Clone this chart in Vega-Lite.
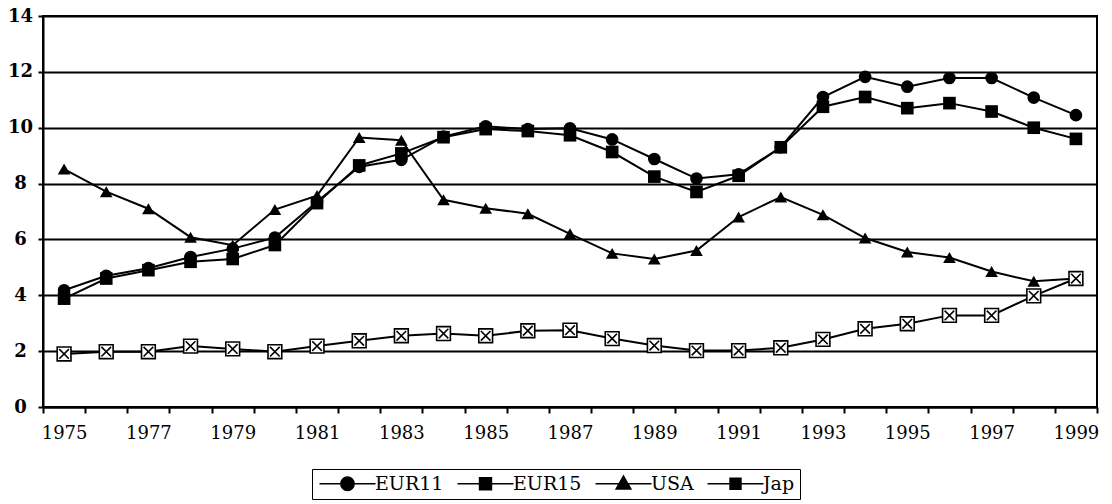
{
  "$schema": "https://vega.github.io/schema/vega-lite/v6.json",
  "width": 1054,
  "height": 391,
  "autosize": {"type": "none"},
  "padding": {"left": 43, "top": 16, "right": 15, "bottom": 97},
  "background": "white",
  "config": {
    "view": {"stroke": "black", "strokeWidth": 2},
    "font": "DejaVu Serif",
    "style": {"guide-label": {"font": "DejaVu Serif", "fill": "black"}},
    "legend": {"labelFont": "DejaVu Serif", "labelFontSize": 19, "labelColor": "black"}
  },
  "datasets": {
    "rates": [
      {"year": 1975, "series": "EUR11", "value": 4.18}, {"year": 1975, "series": "EUR15", "value": 3.88}, {"year": 1975, "series": "USA", "value": 8.52}, {"year": 1975, "series": "Jap", "value": 1.9},
      {"year": 1976, "series": "EUR11", "value": 4.7}, {"year": 1976, "series": "EUR15", "value": 4.6}, {"year": 1976, "series": "USA", "value": 7.71}, {"year": 1976, "series": "Jap", "value": 1.98},
      {"year": 1977, "series": "EUR11", "value": 4.97}, {"year": 1977, "series": "EUR15", "value": 4.9}, {"year": 1977, "series": "USA", "value": 7.1}, {"year": 1977, "series": "Jap", "value": 1.98},
      {"year": 1978, "series": "EUR11", "value": 5.37}, {"year": 1978, "series": "EUR15", "value": 5.2}, {"year": 1978, "series": "USA", "value": 6.08}, {"year": 1978, "series": "Jap", "value": 2.18},
      {"year": 1979, "series": "EUR11", "value": 5.67}, {"year": 1979, "series": "EUR15", "value": 5.3}, {"year": 1979, "series": "USA", "value": 5.79}, {"year": 1979, "series": "Jap", "value": 2.08},
      {"year": 1980, "series": "EUR11", "value": 6.07}, {"year": 1980, "series": "EUR15", "value": 5.8}, {"year": 1980, "series": "USA", "value": 7.07}, {"year": 1980, "series": "Jap", "value": 1.98},
      {"year": 1981, "series": "EUR11", "value": 7.35}, {"year": 1981, "series": "EUR15", "value": 7.3}, {"year": 1981, "series": "USA", "value": 7.57}, {"year": 1981, "series": "Jap", "value": 2.18},
      {"year": 1982, "series": "EUR11", "value": 8.6}, {"year": 1982, "series": "EUR15", "value": 8.65}, {"year": 1982, "series": "USA", "value": 9.65}, {"year": 1982, "series": "Jap", "value": 2.37},
      {"year": 1983, "series": "EUR11", "value": 8.85}, {"year": 1983, "series": "EUR15", "value": 9.08}, {"year": 1983, "series": "USA", "value": 9.55}, {"year": 1983, "series": "Jap", "value": 2.55},
      {"year": 1984, "series": "EUR11", "value": 9.68}, {"year": 1984, "series": "EUR15", "value": 9.66}, {"year": 1984, "series": "USA", "value": 7.42}, {"year": 1984, "series": "Jap", "value": 2.63},
      {"year": 1985, "series": "EUR11", "value": 10.05}, {"year": 1985, "series": "EUR15", "value": 9.95}, {"year": 1985, "series": "USA", "value": 7.12}, {"year": 1985, "series": "Jap", "value": 2.55},
      {"year": 1986, "series": "EUR11", "value": 9.95}, {"year": 1986, "series": "EUR15", "value": 9.88}, {"year": 1986, "series": "USA", "value": 6.92}, {"year": 1986, "series": "Jap", "value": 2.73},
      {"year": 1987, "series": "EUR11", "value": 9.98}, {"year": 1987, "series": "EUR15", "value": 9.73}, {"year": 1987, "series": "USA", "value": 6.2}, {"year": 1987, "series": "Jap", "value": 2.75},
      {"year": 1988, "series": "EUR11", "value": 9.58}, {"year": 1988, "series": "EUR15", "value": 9.13}, {"year": 1988, "series": "USA", "value": 5.5}, {"year": 1988, "series": "Jap", "value": 2.45},
      {"year": 1989, "series": "EUR11", "value": 8.88}, {"year": 1989, "series": "EUR15", "value": 8.25}, {"year": 1989, "series": "USA", "value": 5.3}, {"year": 1989, "series": "Jap", "value": 2.2},
      {"year": 1990, "series": "EUR11", "value": 8.18}, {"year": 1990, "series": "EUR15", "value": 7.7}, {"year": 1990, "series": "USA", "value": 5.6}, {"year": 1990, "series": "Jap", "value": 2.02},
      {"year": 1991, "series": "EUR11", "value": 8.33}, {"year": 1991, "series": "EUR15", "value": 8.28}, {"year": 1991, "series": "USA", "value": 6.8}, {"year": 1991, "series": "Jap", "value": 2.02},
      {"year": 1992, "series": "EUR11", "value": 9.3}, {"year": 1992, "series": "EUR15", "value": 9.3}, {"year": 1992, "series": "USA", "value": 7.52}, {"year": 1992, "series": "Jap", "value": 2.12},
      {"year": 1993, "series": "EUR11", "value": 11.1}, {"year": 1993, "series": "EUR15", "value": 10.75}, {"year": 1993, "series": "USA", "value": 6.88}, {"year": 1993, "series": "Jap", "value": 2.42},
      {"year": 1994, "series": "EUR11", "value": 11.82}, {"year": 1994, "series": "EUR15", "value": 11.1}, {"year": 1994, "series": "USA", "value": 6.05}, {"year": 1994, "series": "Jap", "value": 2.8},
      {"year": 1995, "series": "EUR11", "value": 11.47}, {"year": 1995, "series": "EUR15", "value": 10.7}, {"year": 1995, "series": "USA", "value": 5.55}, {"year": 1995, "series": "Jap", "value": 2.98},
      {"year": 1996, "series": "EUR11", "value": 11.78}, {"year": 1996, "series": "EUR15", "value": 10.88}, {"year": 1996, "series": "USA", "value": 5.35}, {"year": 1996, "series": "Jap", "value": 3.28},
      {"year": 1997, "series": "EUR11", "value": 11.78}, {"year": 1997, "series": "EUR15", "value": 10.58}, {"year": 1997, "series": "USA", "value": 4.85}, {"year": 1997, "series": "Jap", "value": 3.28},
      {"year": 1998, "series": "EUR11", "value": 11.08}, {"year": 1998, "series": "EUR15", "value": 10.0}, {"year": 1998, "series": "USA", "value": 4.5}, {"year": 1998, "series": "Jap", "value": 3.98},
      {"year": 1999, "series": "EUR11", "value": 10.45}, {"year": 1999, "series": "EUR15", "value": 9.6}, {"year": 1999, "series": "USA", "value": 4.6}, {"year": 1999, "series": "Jap", "value": 4.6}
    ]
  },
  "data": {"name": "rates"},
  "encoding": {
    "x": {
      "field": "year",
      "type": "ordinal",
      "scale": {"type": "band", "paddingInner": 0, "paddingOuter": 0},
      "bandPosition": 0.5,
      "axis": {
        "title": null,
        "tickBand": "extent",
        "labelExpr": "datum.value % 2 == 1 ? datum.label : ''",
        "labelAngle": 0,
        "labelOverlap": false,
        "labelBound": false,
        "tickSize": 6,
        "tickWidth": 2,
        "tickColor": "black",
        "domainColor": "black",
        "domainWidth": 2,
        "grid": false,
        "labelFont": "DejaVu Serif",
        "labelFontSize": 18,
        "labelColor": "black",
        "labelPadding": 11
      }
    },
    "y": {
      "field": "value",
      "type": "quantitative",
      "scale": {"domain": [0, 14], "nice": false},
      "axis": {
        "title": null,
        "values": [0, 2, 4, 6, 8, 10, 12, 14],
        "grid": true,
        "gridColor": "black",
        "gridWidth": 2,
        "gridOpacity": 1,
        "tickSize": 5,
        "tickWidth": 2,
        "tickColor": "black",
        "domainColor": "black",
        "domainWidth": 2,
        "labelAlign": "center",
        "labelPadding": 18,
        "labelFont": "DejaVu Serif",
        "labelFontSize": 18,
        "labelFontWeight": "bold",
        "labelColor": "black"
      }
    }
  },
  "layer": [
    {
      "mark": {"type": "line", "color": "black", "strokeWidth": 2},
      "encoding": {"detail": {"field": "series"}}
    },
    {
      "transform": [{"filter": "datum.series != 'Jap'"}],
      "mark": {"type": "point", "filled": true, "color": "black", "size": 160, "opacity": 1},
      "encoding": {
        "shape": {
          "field": "series",
          "scale": {"domain": ["EUR11", "EUR15", "USA"], "range": ["circle", "square", "triangle-up"]},
          "legend": null
        }
      }
    },
    {
      "transform": [{"filter": "datum.series == 'Jap'"}],
      "mark": {
        "type": "point",
        "shape": "M-1,-1H1V1H-1Z M-0.7,-0.7L0.7,0.7 M0.7,-0.7L-0.7,0.7",
        "filled": true,
        "fill": "white",
        "stroke": "black",
        "strokeWidth": 1.6,
        "size": 190,
        "opacity": 1
      }
    },
    {
      "transform": [{"filter": "datum.value < -1"}],
      "mark": {"type": "point", "filled": true, "color": "black", "stroke": "black", "strokeWidth": 1.5, "opacity": 1},
      "encoding": {
        "shape": {
          "field": "series",
          "scale": {
            "domain": ["EUR11", "EUR15", "USA", "Jap"],
            "range": [
              "M-4,0H4M-0.95,0A0.95,0.95 0 1,0 0.95,0A0.95,0.95 0 1,0 -0.95,0Z",
              "M-4,0H4M-0.85,-0.85H0.85V0.85H-0.85Z",
              "M-4,0H4M0,-1.1L1.05,0.75H-1.05Z",
              "M-4,0H4M-0.78,-0.78H0.78V0.78H-0.78Z"
            ]
          },
          "legend": {
            "title": null,
            "orient": "none",
            "legendX": 269,
            "legendY": 453,
            "direction": "horizontal",
            "symbolSize": 196,
            "symbolOffset": 21,
            "labelFont": "DejaVu Serif",
            "labelFontSize": 19,
            "labelColor": "black",
            "labelOffset": 18,
            "columnPadding": 10,
            "strokeColor": "black",
            "padding": 5,
            "symbolOpacity": 1,
            "encode": {
              "symbols": {"update": {"stroke": {"value": "black"}, "strokeWidth": {"value": 1.5}, "fill": {"value": "black"}, "opacity": {"value": 1}}},
              "labels": {"enter": {"font": {"value": "DejaVu Serif"}}, "update": {"font": {"value": "DejaVu Serif"}, "fontSize": {"value": 19}}},
              "legend": {"update": {"strokeWidth": {"value": 1.5}}}
            }
          }
        }
      }
    }
  ],
  "resolve": {"scale": {"shape": "independent"}}
}
